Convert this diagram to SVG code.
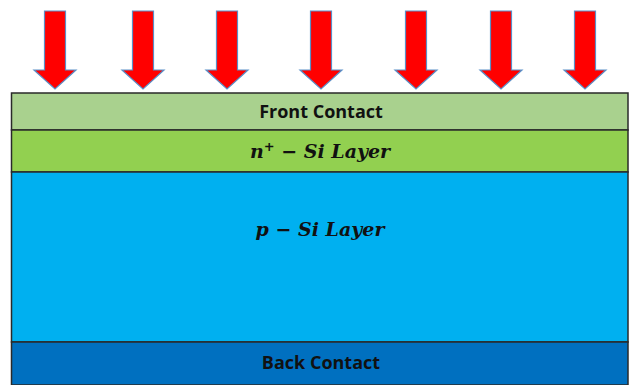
<svg xmlns="http://www.w3.org/2000/svg" width="630" height="385" viewBox="0 0 630 385">
<defs>
<style>
.layer{stroke:#2a2a2a;stroke-width:1.5}
.arrow{fill:#FF0000;stroke:#5B8FC7;stroke-width:1.2;stroke-linejoin:miter}
.lbl{font-family:"Open Sans","Liberation Sans",sans-serif;font-weight:bold;font-size:18px;fill:#111;text-anchor:middle}
.math{font-family:"DejaVu Serif","Liberation Serif",serif;font-weight:bold;font-style:italic;font-size:19px;fill:#111;text-anchor:middle}
</style>
<path id="arr" d="M-10.5,11 H10.5 V70 H21 L0,89 L-21,70 H-10.5 Z"/>
</defs>
<rect width="630" height="385" fill="#ffffff"/>
<g id="arrows">
<use href="#arr" class="arrow" x="55"/>
<use href="#arr" class="arrow" x="143"/>
<use href="#arr" class="arrow" x="227"/>
<use href="#arr" class="arrow" x="321"/>
<use href="#arr" class="arrow" x="416"/>
<use href="#arr" class="arrow" x="501"/>
<use href="#arr" class="arrow" x="585"/>
</g>
<g id="front-contact">
<rect class="layer" x="11.5" y="93" width="616.5" height="37" fill="#A9D18E"/>
<text class="lbl" x="321" y="118">Front Contact</text>
</g>
<g id="n-si-layer">
<rect class="layer" x="11.5" y="130" width="616.5" height="42" fill="#92D050"/>
<text class="math" x="320" y="158">n<tspan font-size="13" dy="-7">+</tspan><tspan dy="7"> − Si Layer</tspan></text>
</g>
<g id="p-si-layer">
<rect class="layer" x="11.5" y="172" width="616.5" height="170" fill="#00B0F0"/>
<text class="math" x="320" y="236">p − Si Layer</text>
</g>
<g id="back-contact">
<rect class="layer" x="11.5" y="342" width="616.5" height="43" fill="#0070C0"/>
<text class="lbl" x="321" y="369">Back Contact</text>
</g>
</svg>
